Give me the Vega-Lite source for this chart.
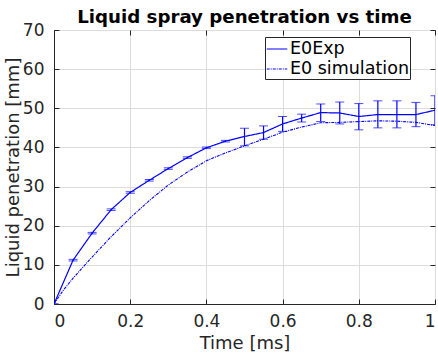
{
  "$schema": "https://vega.github.io/schema/vega-lite/v6.json",
  "width": 381,
  "height": 274,
  "autosize": {"type": "none"},
  "padding": {"left": 54, "top": 30, "right": 3, "bottom": 52},
  "title": {"text": "Liquid spray penetration vs time", "font": "DejaVu Sans", "fontSize": 18.2, "fontWeight": "bold", "color": "#000000", "offset": -6, "anchor": "middle"},
  "config": {
    "view": {"stroke": "#262626", "strokeWidth": 1},
    "axis": {"labelFont": "DejaVu Sans", "labelFontSize": 17, "labelColor": "#262626", "titleFont": "DejaVu Sans", "titleFontSize": 18, "titleColor": "#262626", "titleFontWeight": "normal", "domainColor": "#262626", "tickColor": "#262626", "gridColor": "#dcdcdc", "gridOpacity": 1, "gridWidth": 1},
    "legend": {"labelFont": "DejaVu Sans", "labelFontSize": 17.5, "labelColor": "#000000"}
  },
  "datasets": {
    "exp": [
      {"t": 0, "y": 0, "lo": 0, "hi": 0},
      {"t": 0.05, "y": 11.2, "lo": 11.0, "hi": 11.4},
      {"t": 0.1, "y": 18.1, "lo": 17.9, "hi": 18.3},
      {"t": 0.15, "y": 24.1, "lo": 23.9, "hi": 24.3},
      {"t": 0.2, "y": 28.5, "lo": 28.3, "hi": 28.7},
      {"t": 0.25, "y": 31.6, "lo": 31.4, "hi": 31.8},
      {"t": 0.3, "y": 34.6, "lo": 34.4, "hi": 34.8},
      {"t": 0.35, "y": 37.4, "lo": 37.2, "hi": 37.6},
      {"t": 0.4, "y": 39.9, "lo": 39.7, "hi": 40.1},
      {"t": 0.45, "y": 41.6, "lo": 41.4, "hi": 41.8},
      {"t": 0.5, "y": 42.8, "lo": 40.4, "hi": 44.9},
      {"t": 0.55, "y": 43.8, "lo": 42.1, "hi": 45.5},
      {"t": 0.6, "y": 46.0, "lo": 44.1, "hi": 47.9},
      {"t": 0.65, "y": 47.5, "lo": 46.5, "hi": 48.5},
      {"t": 0.7, "y": 48.9, "lo": 46.6, "hi": 51.1},
      {"t": 0.75, "y": 48.8, "lo": 46.0, "hi": 51.6},
      {"t": 0.8, "y": 47.9, "lo": 44.5, "hi": 51.2},
      {"t": 0.85, "y": 48.4, "lo": 45.0, "hi": 51.9},
      {"t": 0.9, "y": 48.4, "lo": 45.0, "hi": 51.9},
      {"t": 0.95, "y": 48.4, "lo": 45.3, "hi": 51.5},
      {"t": 1.0, "y": 49.5, "lo": 45.8, "hi": 53.2}
    ],
    "sim": [
      {"t": 0, "y": 0},
      {"t": 0.025, "y": 3.6},
      {"t": 0.05, "y": 6.6},
      {"t": 0.1, "y": 12.0},
      {"t": 0.15, "y": 17.2},
      {"t": 0.2, "y": 22.0},
      {"t": 0.25, "y": 26.4},
      {"t": 0.3, "y": 30.4},
      {"t": 0.35, "y": 33.7},
      {"t": 0.4, "y": 36.6},
      {"t": 0.45, "y": 38.6},
      {"t": 0.5, "y": 40.4},
      {"t": 0.55, "y": 42.1},
      {"t": 0.6, "y": 43.9},
      {"t": 0.65, "y": 45.2},
      {"t": 0.7, "y": 46.3},
      {"t": 0.75, "y": 46.4},
      {"t": 0.8, "y": 46.6},
      {"t": 0.85, "y": 46.8},
      {"t": 0.9, "y": 46.7},
      {"t": 0.95, "y": 46.4},
      {"t": 1.0, "y": 45.6}
    ]
  },
  "resolve": {"axis": {"x": "independent", "y": "independent"}},
  "layer": [
    {
      "data": {"name": "exp"},
      "transform": [{"calculate": "'E0Exp'", "as": "series"}],
      "mark": {"type": "line", "color": "#0000ff", "strokeWidth": 1.2, "clip": true},
      "encoding": {
        "x": {"field": "t", "type": "quantitative", "scale": {"domain": [0, 1], "nice": false}, "axis": {"orient": "bottom", "title": "Time [ms]", "values": [0, 0.2, 0.4, 0.6, 0.8, 1], "format": "~g", "tickSize": -5, "labelPadding": 14, "titlePadding": 5, "grid": true}},
        "y": {"field": "y", "type": "quantitative", "scale": {"domain": [0, 70], "nice": false}, "axis": {"orient": "left", "title": "Liquid penetration [mm]", "values": [0, 10, 20, 30, 40, 50, 60, 70], "tickSize": -5, "labelPadding": 15, "titlePadding": 0, "grid": true}},
        "strokeDash": {"field": "series", "type": "nominal", "scale": {"domain": ["E0Exp", "E0 simulation"], "range": [[1, 0], [3, 1, 1, 1]]}, "legend": {"title": null, "orient": "none", "legendX": 211, "legendY": 7, "strokeColor": "#262626", "fillColor": "#ffffff", "padding": 1, "symbolType": "stroke", "symbolSize": 420, "symbolStrokeColor": "#0000ff", "symbolStrokeWidth": 1.2, "labelOffset": 2, "rowPadding": 0}}
      }
    },
    {
      "data": {"name": "sim"},
      "transform": [{"calculate": "'E0 simulation'", "as": "series"}],
      "mark": {"type": "line", "color": "#0000ff", "strokeWidth": 1.1, "clip": true},
      "encoding": {
        "x": {"field": "t", "type": "quantitative", "axis": {"orient": "top", "labels": false, "title": null, "values": [0, 0.2, 0.4, 0.6, 0.8, 1], "tickSize": -5, "grid": false, "domain": false}},
        "y": {"field": "y", "type": "quantitative", "axis": {"orient": "right", "labels": false, "title": null, "values": [0, 10, 20, 30, 40, 50, 60, 70], "tickSize": -5, "grid": false, "domain": false}},
        "strokeDash": {"field": "series", "type": "nominal"}
      }
    },
    {
      "data": {"name": "exp"},
      "mark": {"type": "errorbar", "color": "#0000ff", "ticks": {"size": 9, "color": "#0000ff", "clip": true}, "rule": {"strokeWidth": 1.2, "clip": true}},
      "encoding": {
        "x": {"field": "t", "type": "quantitative", "axis": null},
        "y": {"field": "lo", "type": "quantitative", "axis": null},
        "y2": {"field": "hi"}
      }
    }
  ]
}
